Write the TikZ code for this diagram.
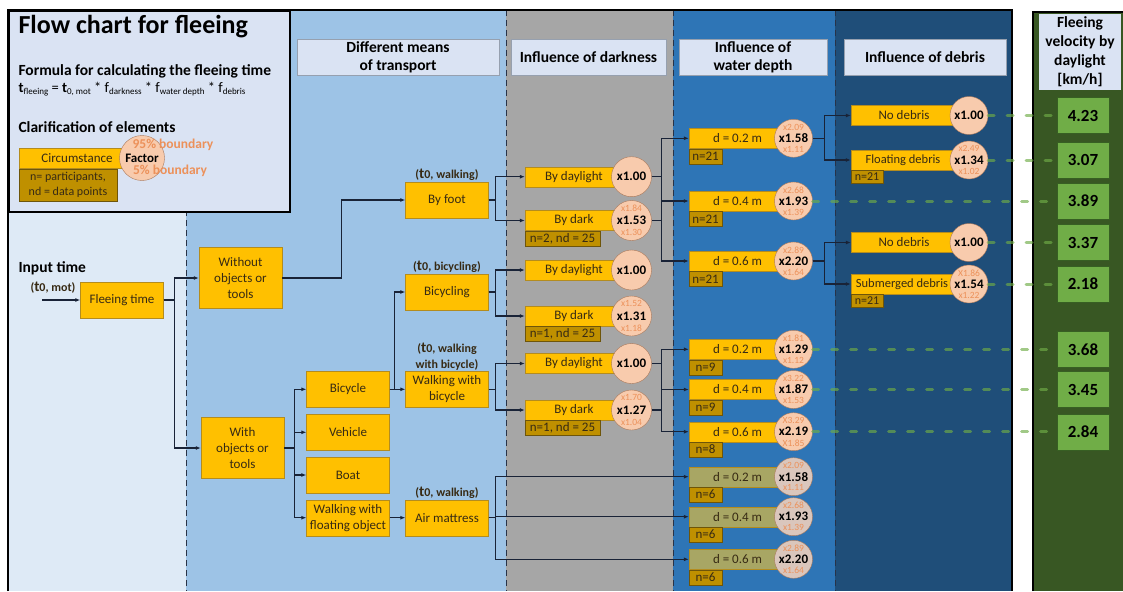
\documentclass[tikz,border=0pt]{standalone}
\usepackage{fontspec}
\setmainfont{Carlito}
\usetikzlibrary{arrows.meta}

\definecolor{colA}{RGB}{222,234,246}
\definecolor{colB}{RGB}{157,195,230}
\definecolor{colC}{RGB}{166,166,166}
\definecolor{colD}{RGB}{46,117,182}
\definecolor{colE}{RGB}{31,78,121}
\definecolor{greenbg}{RGB}{56,87,35}
\definecolor{legfill}{RGB}{218,227,243}
\definecolor{hdrfill}{RGB}{218,227,243}
\definecolor{hdrline}{RGB}{150,160,175}
\definecolor{boxfill}{RGB}{255,192,0}
\definecolor{boxline}{RGB}{180,140,30}
\definecolor{nfill}{RGB}{191,144,0}
\definecolor{nline}{RGB}{110,85,10}
\definecolor{facfill}{RGB}{248,203,173}
\definecolor{facline}{RGB}{170,120,90}
\definecolor{olive}{RGB}{168,166,100}
\definecolor{olivefac}{RGB}{218,198,188}
\definecolor{bound}{RGB}{236,145,90}
\definecolor{velfill}{RGB}{112,173,71}
\definecolor{velline}{RGB}{55,95,35}
\definecolor{txt}{RGB}{55,42,20}
\definecolor{lnk}{RGB}{25,35,55}
\definecolor{sepline}{RGB}{40,50,70}
\definecolor{dashgreen}{RGB}{112,173,71}

\newcommand{\lowtxt}[1]{\raisebox{-0.35ex}{\fontsize{9}{9}\selectfont #1}}
\newcommand{\tnull}{{\fontsize{15}{15}\selectfont t}}

\begin{document}
\begin{tikzpicture}[x=1pt,y=-1pt,
  font=\fontsize{13}{16}\selectfont,
  box/.style={draw=boxline,fill=boxfill,text=txt,minimum width=83,minimum height=36,align=center,inner sep=1pt,font=\fontsize{13}{16}\selectfont},
  hdr/.style={draw=hdrline,fill=hdrfill,text=black,font=\fontsize{15.5}{18}\selectfont\bfseries,align=center,inner sep=1pt},
  cond/.style={draw=boxline,fill=boxfill,text=txt,minimum height=20,inner sep=0pt,font=\fontsize{13}{16}\selectfont},
  nbox/.style={draw=nline,fill=nfill,text=txt,anchor=north west,inner sep=0pt,minimum height=15,font=\fontsize{13}{15}\selectfont},
  fac/.style={circle,draw=facline,fill=facfill,minimum size=38,inner sep=0pt,text=black,font=\fontsize{13}{12}\selectfont\bfseries},
  fcs/.style={font=\fontsize{9.5}{10}\selectfont,text=bound,inner sep=0pt,anchor=center},
  fhi/.style={label={[fcs,label distance=-8pt]90:#1}},
  flo/.style={label={[fcs,label distance=-8pt]-90:#1}},
  vel/.style={draw=velline,fill=velfill,minimum width=52,minimum height=36,text=black,font=\fontsize{17}{18}\selectfont\bfseries},
  tlab/.style={font=\fontsize{12}{16}\selectfont\bfseries,align=center,inner sep=1pt,text=txt},
  link/.style={draw=lnk,line width=1.2pt,-{Latex[length=5pt,width=4pt]}},
  plain/.style={draw=lnk,line width=1.2pt},
  greendash/.style={draw=dashgreen,opacity=0.65,line width=3pt,line cap=round,dash pattern=on 6pt off 13pt},
  colsep/.style={draw=sepline,dash pattern=on 6pt off 4pt,line width=0.9pt}]
  \useasboundingbox (0,0) rectangle (1123,591);
  \fill[white] (0,0) rectangle (1123,591);

  \fill[colA] (8,10) rectangle (186,591);
  \fill[colB] (186,10) rectangle (506,591);
  \fill[colC] (506,10) rectangle (673,591);
  \fill[colD] (673,10) rectangle (835,591);
  \fill[colE] (835,10) rectangle (1012,591);
  \draw[colsep] (186,10) -- (186,591);
  \draw[colsep] (506,10) -- (506,591);
  \draw[colsep] (673,10) -- (673,591);
  \draw[colsep] (835,10) -- (835,591);
  \draw[line width=2pt] (8,591) -- (8,10) -- (1012,10) -- (1012,591);
  \fill[greenbg] (1033,12) rectangle (1123,591);
  \draw[line width=2pt] (1033,591) -- (1033,12) -- (1123,12);

  \filldraw[fill=legfill,draw=black,line width=1.5pt] (9,11) rectangle (290,212);
  \node (title) at (15,27) [anchor=west,font=\fontsize{26}{28}\selectfont\bfseries] {Flow chart for fleeing};
  \node (formhead) at (15,71) [anchor=west,font=\fontsize{15.5}{18}\selectfont\bfseries] {Formula for calculating the fleeing time};
  \node (formula) at (15,89) [anchor=west,font=\fontsize{14.5}{16}\selectfont] {\textbf{t}\lowtxt{fleeing} = \textbf{t}\lowtxt{0, mot} * f\lowtxt{darkness} * f\lowtxt{water depth} * f\lowtxt{debris}};
  \node (clarhead) at (15,127) [anchor=west,font=\fontsize{15.5}{18}\selectfont\bfseries] {Clarification of elements};
  \node (circ) at (77,158.5) [cond,minimum width=116] {Circumstance};
  \node (circn) at (circ.south west) [nbox,minimum width=98,minimum height=32,align=center,font=\fontsize{12}{14.5}\selectfont] {n= participants,\\nd = data points};
  \node (circf) at (142,158) [fac,minimum size=45,font=\fontsize{13}{13}\selectfont\bfseries] {Factor};
  \node (b95) at (173,145) [text=bound,font=\fontsize{13.5}{14}\selectfont\bfseries] {95\% boundary};
  \node (b5) at (170,171) [text=bound,font=\fontsize{13.5}{14}\selectfont\bfseries] {5\% boundary};

  \node (hmeans) at (398,57) [hdr,minimum width=202,minimum height=36] {Different means\\of transport};
  \node (hdark) at (588.5,57) [hdr,minimum width=155,minimum height=36] {Influence of darkness};
  \node (hwater) at (753,57) [hdr,minimum width=148,minimum height=36] {Influence of\\water depth};
  \node (hdebris) at (925,57) [hdr,minimum width=162,minimum height=36] {Influence of debris};
  \node (hvel) at (1080,52) [hdr,draw=none,minimum width=82,minimum height=76,font=\fontsize{15.5}{19}\selectfont\bfseries] {Fleeing\\velocity by\\daylight\\{}[km/h]};

  \node (inlab) at (15,268) [anchor=west,font=\fontsize{15.5}{18}\selectfont\bfseries] {Input time};
  \node (inmot) at (53,288) [tlab] {(\tnull0, mot)};
  \coordinate (in0) at (42,300);
  \node (fle) at (122,300) [box] {Fleeing time};
  \node (wo) at (240.5,278) [box,minimum height=61] {Without\\objects or\\tools};
  \node (wi) at (242.5,448) [box,minimum height=61] {With\\objects or\\tools};
  \node (foot) at (447,200) [box,label={[tlab]above:(\tnull0, walking)}] {By foot};
  \node (bicyc) at (447,292) [box,label={[tlab]above:(\tnull0, bicycling)}] {Bicycling};
  \node (wbike) at (447,389.3) [box,label={[tlab]above:(\tnull0, walking\\with bicycle)}] {Walking with\\bicycle};
  \node (air) at (447,517.7) [box,label={[tlab]above:(\tnull0, walking)}] {Air mattress};
  \node (bike) at (348,389.3) [box] {Bicycle};
  \node (veh) at (348,432.3) [box] {Vehicle};
  \node (boat) at (348,475) [box] {Boat};
  \node (wfloat) at (348,517.7) [box] {Walking with\\floating object};

  \node (d1) at (574,176.7) [cond,minimum width=98] {By daylight};
  \node (d1f) at (631.5,176.7) [fac,minimum size=40] {x1.00};
  \node (d2) at (574,220.5) [cond,minimum width=98] {By dark};
  \node (d2n) at (d2.south west) [nbox,minimum width=75] {n=2, nd = 25};
  \node (d2f) at (631.5,220.5) [fac,minimum size=40,fhi=x1.84,flo=x1.30] {x1.53};
  \node (d3) at (574,270) [cond,minimum width=98] {By daylight};
  \node (d3f) at (631.5,270) [fac,minimum size=40] {x1.00};
  \node (d4) at (574,316) [cond,minimum width=98] {By dark};
  \node (d4n) at (d4.south west) [nbox,minimum width=75] {n=1, nd = 25};
  \node (d4f) at (631.5,316) [fac,minimum size=40,fhi=x1.52,flo=x1.18] {x1.31};
  \node (d5) at (574,363.5) [cond,minimum width=98] {By daylight};
  \node (d5f) at (631.5,363.5) [fac,minimum size=40] {x1.00};
  \node (d6) at (574,410) [cond,minimum width=98] {By dark};
  \node (d6n) at (d6.south west) [nbox,minimum width=75] {n=1, nd = 25};
  \node (d6f) at (631.5,410) [fac,minimum size=40,fhi=x1.70,flo=x1.04] {x1.27};

  \node (w1) at (737.5,138.3) [cond,minimum width=97] {d = 0.2 m};
  \node (w1n) at (w1.south west) [nbox,minimum width=33] {n=21};
  \node (w1f) at (793.5,138.3) [fac,fhi=x2.09,flo=x1.11] {x1.58};
  \node (w2) at (737.5,201) [cond,minimum width=97] {d = 0.4 m};
  \node (w2n) at (w2.south west) [nbox,minimum width=33] {n=21};
  \node (w2f) at (793.5,201) [fac,fhi=x2.68,flo=x1.39] {x1.93};
  \node (w3) at (737.5,261) [cond,minimum width=97] {d = 0.6 m};
  \node (w3n) at (w3.south west) [nbox,minimum width=33] {n=21};
  \node (w3f) at (793.5,261) [fac,fhi=x2.89,flo=x1.64] {x2.20};
  \node (w4) at (737.5,349.3) [cond,minimum width=97] {d = 0.2 m};
  \node (w4n) at (w4.south west) [nbox,minimum width=33] {n=9};
  \node (w4f) at (793.5,349.3) [fac,fhi=x1.81,flo=x1.12] {x1.29};
  \node (w5) at (737.5,389.5) [cond,minimum width=97] {d = 0.4 m};
  \node (w5n) at (w5.south west) [nbox,minimum width=33] {n=9};
  \node (w5f) at (793.5,389.5) [fac,fhi=x3.22,flo=x1.53] {x1.87};
  \node (w6) at (737.5,431.7) [cond,minimum width=97] {d = 0.6 m};
  \node (w6n) at (w6.south west) [nbox,minimum width=33] {n=8};
  \node (w6f) at (793.5,431.7) [fac,fhi=X3.29,flo=X1.85] {x2.19};
  \node (w7) at (737.5,476.7) [cond,fill=olive,minimum width=97] {d = 0.2 m};
  \node (w7n) at (w7.south west) [nbox,minimum width=33] {n=6};
  \node (w7f) at (793.5,476.7) [fac,fill=olivefac,fhi=x2.09,flo=x1.11] {x1.58};
  \node (w8) at (737.5,516.7) [cond,fill=olive,minimum width=97] {d = 0.4 m};
  \node (w8n) at (w8.south west) [nbox,minimum width=33] {n=6};
  \node (w8f) at (793.5,516.7) [fac,fill=olivefac,fhi=x2.68,flo=x1.39] {x1.93};
  \node (w9) at (737.5,559.3) [cond,fill=olive,minimum width=97] {d = 0.6 m};
  \node (w9n) at (w9.south west) [nbox,minimum width=33] {n=6};
  \node (w9f) at (793.5,559.3) [fac,fill=olivefac,fhi=x2.89,flo=x1.64] {x2.20};

  \node (r1) at (904,115.5) [cond,minimum width=106] {No debris};
  \node (r1f) at (969,115.5) [fac] {x1.00};
  \node (r2) at (903,160) [cond,minimum width=104,font=\fontsize{12.5}{15}\selectfont] {Floating debris};
  \node (r2n) at (r2.south west) [nbox,minimum width=32,minimum height=13,font=\fontsize{12}{13}\selectfont] {n=21};
  \node (r2f) at (969,160) [fac,fhi=x2.49,flo=x1.02] {x1.34};
  \node (r3) at (904,242.5) [cond,minimum width=106] {No debris};
  \node (r3f) at (969,242.5) [fac] {x1.00};
  \node (r4) at (902,284) [cond,minimum width=102,font=\fontsize{12.5}{15}\selectfont] {Submerged debris};
  \node (r4n) at (r4.south west) [nbox,minimum width=32,minimum height=13,font=\fontsize{12}{13}\selectfont] {n=21};
  \node (r4f) at (969,284) [fac,fhi=X1.86,flo=x1.22] {x1.54};

  \node (v1) at (1083,115.5) [vel] {4.23};
  \node (v2) at (1083,160) [vel] {3.07};
  \node (v3) at (1083,201) [vel] {3.89};
  \node (v4) at (1083,242.5) [vel] {3.37};
  \node (v5) at (1083,284) [vel] {2.18};
  \node (v6) at (1083,349.3) [vel] {3.68};
  \node (v7) at (1083,389.5) [vel] {3.45};
  \node (v8) at (1083,431.7) [vel] {2.84};

  \draw[link] (in0) -- (fle);
  \draw[link] (fle.east) -- ++(11,0) |- (wo);
  \draw[link] (fle.east) -- ++(11,0) |- (wi);
  \draw[link] (wo.east) -- ++(59,0) |- (foot);
  \draw[link] (wi.east) -- ++(10,0) |- (bike);
  \draw[link] (wi.east) -- ++(10,0) |- (veh);
  \draw[link] (wi.east) -- ++(10,0) |- (boat);
  \draw[link] (wi.east) -- ++(10,0) |- (wfloat);
  \draw[link] (bike.east) -- ++(5,0) |- (bicyc);
  \draw[link] (bike) -- (wbike);
  \draw[link] (wfloat) -- (air);
  \draw[link] (foot.east) -- ++(7,0) |- (d1);
  \draw[link] (foot.east) -- ++(7,0) |- (d2);
  \draw[link] (bicyc.east) -- ++(7,0) |- (d3);
  \draw[link] (bicyc.east) -- ++(7,0) |- (d4);
  \draw[link] (wbike.east) -- ++(7,0) |- (d5);
  \draw[link] (wbike.east) -- ++(7,0) |- (d6);
  \draw[link] (air.east) -- ++(7,0) |- (w7);
  \draw[link] (air.east) -- ++(7,0) |- (w8);
  \draw[link] (air.east) -- ++(7,0) |- (w9);
  \draw[link] (d1f.east) -- ++(10,0) |- (w1);
  \draw[link] (d1f.east) -- ++(10,0) |- (w2);
  \draw[link] (d1f.east) -- ++(10,0) |- (w3);
  \draw[plain] (d2f.east) -- ++(10,0);
  \draw[link] (d5f.east) -- ++(10,0) |- (w4);
  \draw[link] (d5f.east) -- ++(10,0) |- (w5);
  \draw[link] (d5f.east) -- ++(10,0) |- (w6);
  \draw[plain] (d6f.east) -- ++(10,0);
  \draw[link] (w1f.east) -- ++(11.5,0) |- (r1);
  \draw[link] (w1f.east) -- ++(11.5,0) |- (r2);
  \draw[link] (w3f.east) -- ++(11.5,0) |- (r3);
  \draw[link] (w3f.east) -- ++(11.5,0) |- (r4);

  \draw[greendash] (r1f) -- (v1);
  \draw[greendash] (r2f) -- (v2);
  \draw[greendash] (w2f) -- (v3);
  \draw[greendash] (r3f) -- (v4);
  \draw[greendash] (r4f) -- (v5);
  \draw[greendash] (w4f) -- (v6);
  \draw[greendash] (w5f) -- (v7);
  \draw[greendash] (w6f) -- (v8);
\end{tikzpicture}
\end{document}
